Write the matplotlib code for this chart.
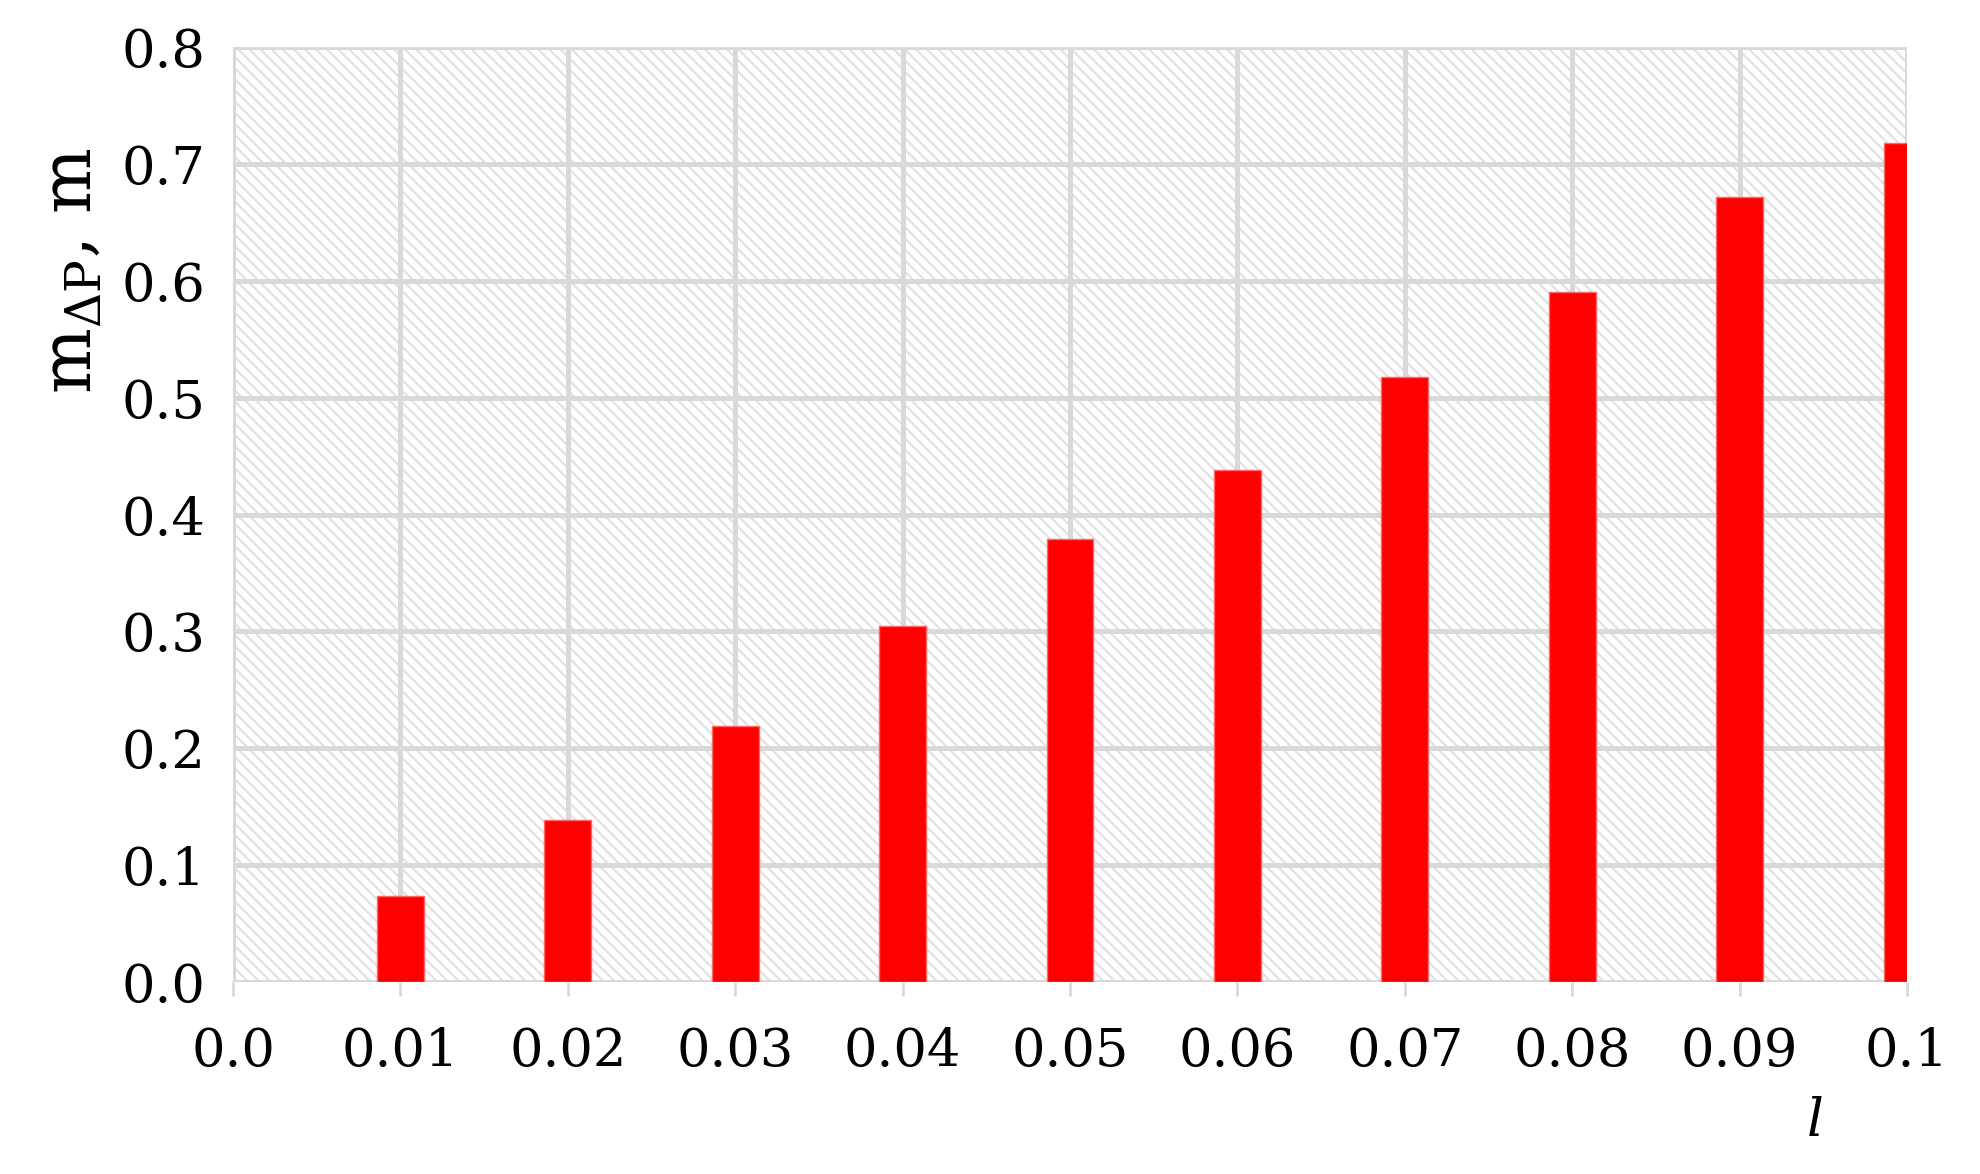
import matplotlib.pyplot as plt
from matplotlib.patches import Rectangle

plt.rcParams['font.family'] = ['DejaVu Serif']
plt.rcParams['mathtext.fontset'] = 'custom'
plt.rcParams['mathtext.rm'] = 'DejaVu Serif'
plt.rcParams['mathtext.it'] = 'DejaVu Serif:italic'
plt.rcParams['hatch.linewidth'] = 1.6
plt.rcParams['hatch.color'] = '#e2e2e2'

# data
l_values = [0.01, 0.02, 0.03, 0.04, 0.05, 0.06, 0.07, 0.08, 0.09, 0.10]
m_dp = [0.074, 0.139, 0.219, 0.305, 0.379, 0.438, 0.518, 0.590, 0.672, 0.718]

x_ticks = [0.0, 0.01, 0.02, 0.03, 0.04, 0.05, 0.06, 0.07, 0.08, 0.09, 0.1]
x_tick_labels = ["0.0", "0.01", "0.02", "0.03", "0.04", "0.05",
                 "0.06", "0.07", "0.08", "0.09", "0.1"]
y_ticks = [0.0, 0.1, 0.2, 0.3, 0.4, 0.5, 0.6, 0.7, 0.8]
y_tick_labels = ["0.0", "0.1", "0.2", "0.3", "0.4", "0.5", "0.6", "0.7", "0.8"]

fig = plt.figure(figsize=(19.8, 11.74), dpi=100)
ax = fig.add_axes([233 / 1980, 1 - 982 / 1174, (1907 - 233) / 1980, (982 - 47) / 1174])

# hatched plot background
ax.add_patch(Rectangle((0, 0), 1, 1, transform=ax.transAxes, facecolor='white',
                       hatch='\\\\\\', edgecolor='#e2e2e2', linewidth=0, zorder=0.1))

ax.bar(l_values, m_dp, width=0.0028, color='#ff0000', edgecolor='#ff6666',
       linewidth=1.0, zorder=3)

ax.set_xlim(0, 0.1)
ax.set_ylim(0, 0.8)
ax.set_xticks(x_ticks)
ax.set_xticklabels(x_tick_labels)
ax.set_yticks(y_ticks)
ax.set_yticklabels(y_tick_labels)
ax.set_axisbelow(True)
ax.grid(True, color='#d9d9d9', linewidth=3.6, zorder=0.5)
for s in ax.spines.values():
    s.set_visible(False)

ax.tick_params(axis='x', length=10, width=2, color='#d9d9d9', pad=22,
               labelsize=38, labelcolor='black')
ax.tick_params(axis='y', length=0, pad=20, labelsize=38, labelcolor='black')

fig.text(72 / 1980, 1 - 271 / 1174, r"m$_{\mathregular{\Delta P}}$, m",
         rotation=90, ha='center', va='center', fontsize=50)
fig.text(1815 / 1980, 1 - 1122 / 1174, "l", style='italic',
         ha='center', va='center', fontsize=38)

fig.savefig('out.png', dpi=100)
